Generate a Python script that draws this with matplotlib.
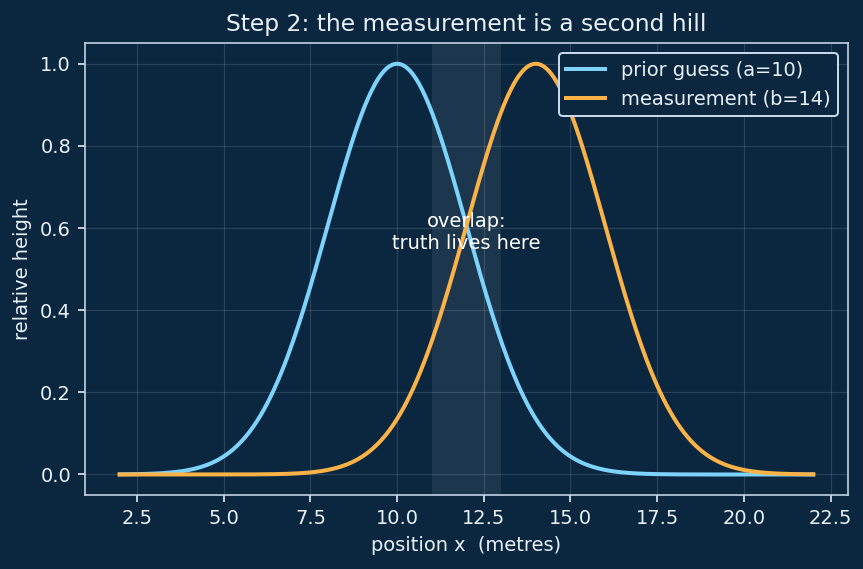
import numpy as np
from matplotlib import pyplot as plt

# chart values
x_start, x_end = 2, 22
prior_centre = 10      # a
meas_centre = 14       # b
width = 2.0            # spread of both hills
overlap_span = (11, 13)

prior_label = 'prior guess (a=10)'
meas_label = 'measurement (b=14)'

bg = '#0b2740'
fg = '#e8f0f8'
blue = '#7dd3fc'
orange = '#fbb347'

x = np.linspace(x_start, x_end, 400)
prior = np.exp(-(x - prior_centre)**2 / (2 * width**2))
meas = np.exp(-(x - meas_centre)**2 / (2 * width**2))

plt.rcParams['font.family'] = 'DejaVu Sans'
fig = plt.figure(figsize=(863/144, 569/144), dpi=144, facecolor=bg)
ax = fig.add_axes([0.0985, 0.130, 0.884, 0.794], facecolor=bg)

ax.axvspan(*overlap_span, color='white', alpha=0.07, lw=0)
ax.plot(x, prior, color=blue, lw=2.0, label=prior_label)
ax.plot(x, meas, color=orange, lw=2.0, label=meas_label)
ax.text(12, 0.59, 'overlap:\ntruth lives here', color='white',
        ha='center', va='center', fontsize=9.7)

ax.set_xlim(1, 23)
ax.set_ylim(-0.05, 1.05)
ax.set_xticks(np.arange(2.5, 22.6, 2.5))
ax.grid(True, color='white', alpha=0.13, lw=0.6)
ax.set_title('Step 2: the measurement is a second hill', color=fg, fontsize=11.7)
ax.set_xlabel('position x  (metres)', color=fg, fontsize=9.7)
ax.set_ylabel('relative height', color=fg, fontsize=9.7)
ax.tick_params(colors=fg, labelsize=9.7)
for s in ax.spines.values():
    s.set_color('#c8d8ea')

leg = ax.legend(loc='upper right', facecolor=bg, edgecolor='#c8d8ea',
                fontsize=9.7, framealpha=1)
for t in leg.get_texts():
    t.set_color(fg)

plt.savefig('out.png', facecolor=bg)
